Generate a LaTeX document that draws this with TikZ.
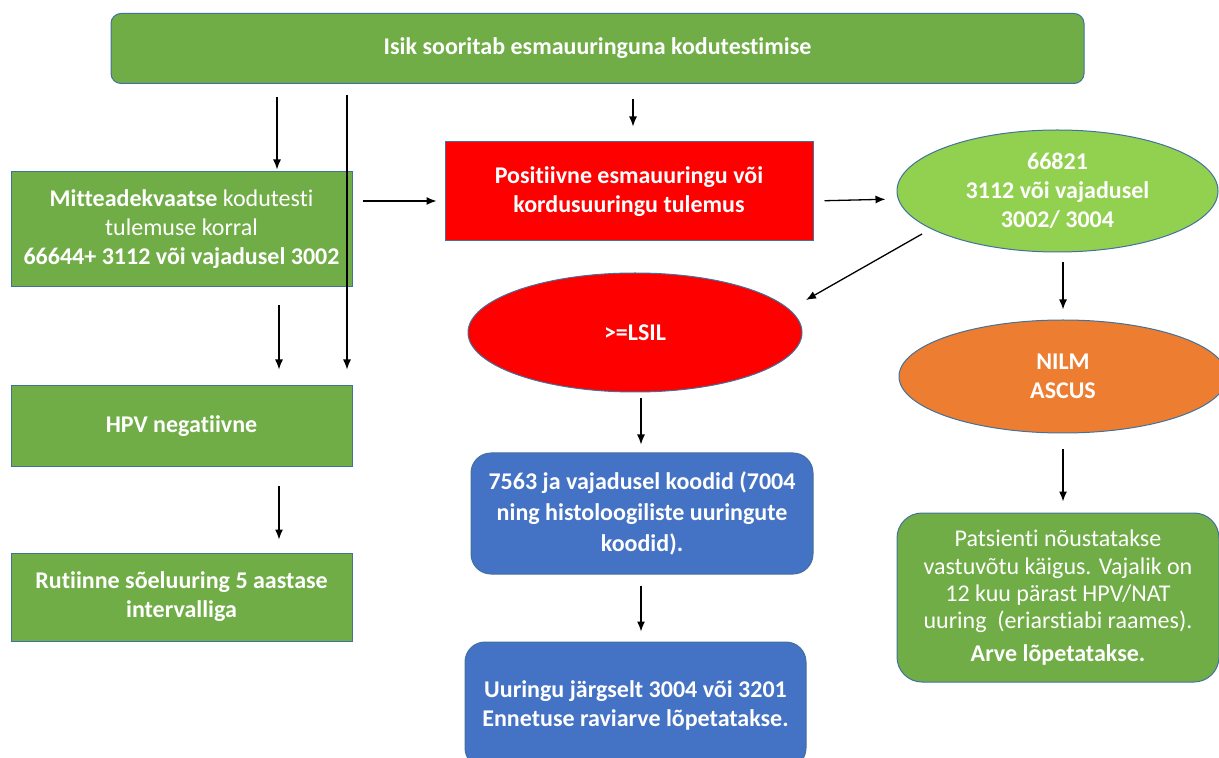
\documentclass[tikz,border=0pt]{standalone}
\usepackage{fontspec}
\setmainfont[Ligatures=NoCommon]{Carlito}
\usetikzlibrary{arrows.meta,shapes.geometric,calc}
\definecolor{gdark}{HTML}{70AD47}
\definecolor{glight}{HTML}{92D050}
\definecolor{rred}{HTML}{FF0000}
\definecolor{oorange}{HTML}{ED7D31}
\definecolor{bblue}{HTML}{4472C4}
\definecolor{edge}{HTML}{41719C}
\tikzset{
  shp/.style={draw=edge, line width=0.5pt, inner sep=0pt, align=center, text=white, font=\fontsize{12}{14.5}\selectfont\bfseries},
  sq/.style={shp, rectangle},
  rnd/.style={shp, rectangle, rounded corners=#1},
  ell/.style={shp, ellipse},
  txt/.style={inner sep=0pt, align=center, text=white, font=\fontsize{12}{14.5}\selectfont\bfseries},
  arr/.style={draw=black, line width=0.65pt, -{Latex[length=5pt,width=4pt]}}
}
\begin{document}
\begin{tikzpicture}[x=0.5pt,y=-0.5pt]
\useasboundingbox (0,0) rectangle (1219,758);
\clip (0,0) rectangle (1219,758);
% nodes
\node[rnd=5pt, fill=gdark, minimum width=486.5pt, minimum height=35pt] (top) at (597.5,48.5) {Isik sooritab esmauuringuna kodutestimise};
\node[sq, fill=gdark, minimum width=170.5pt, minimum height=57.5pt] (mit) at (181.5,229.5)
  {Mitteadekvaatse \mdseries kodutesti\\ \mdseries tulemuse korral\\ 66644+ 3112 või vajadusel 3002};
\node[sq, fill=rred, minimum width=184pt, minimum height=49.5pt] (red) at (629,191.5)
  {Positiivne esmauuringu või\\ kordusuuringu tulemus};
\node[ell, fill=glight, minimum width=160.5pt, minimum height=61pt] (gE) at (1057.5,191) {};
\node[txt] at (gE) {66821\\ 3112 või vajadusel\\ 3002/ 3004};
\node[ell, fill=rred, minimum width=167pt, minimum height=59.5pt] (lsil) at (635,332.5) {};
\node[txt] at (lsil) {>=LSIL};
\node[ell, fill=oorange, minimum width=164pt, minimum height=56.5pt] (nE) at (1063,376.5) {};
\node[txt] at (nE) {NILM\\ ASCUS};
\node[sq, fill=gdark, minimum width=170.5pt, minimum height=40pt] (hpv) at (181.5,426) {HPV negatiivne};
\node[sq, fill=gdark, minimum width=170.5pt, minimum height=44pt] (rut) at (181.5,597)
  {Rutiinne sõeluuring 5 aastase\\ intervalliga};
\node[rnd=10pt, fill=bblue, minimum width=171pt, minimum height=60.5pt, font=\fontsize{12}{15.5}\selectfont\bfseries] (b1) at (642,513.5)
  {7563 ja vajadusel koodid (7004\\ ning histoloogiliste uuringute\\ koodid).};
\node[rnd=10pt, fill=bblue, minimum width=170.5pt, minimum height=63pt] (b2) at (635.5,705)
  {Uuringu järgselt 3004 või 3201\\ Ennetuse raviarve lõpetatakse.};
\node[rnd=12.5pt, fill=gdark, minimum width=161pt, minimum height=84.5pt, font=\fontsize{12}{13.7}\selectfont] (rbox) at (1058,597.5)
  {Patsienti nõustatakse\\ vastuvõtu käigus. Vajalik on\\ 12 kuu pärast HPV/NAT\\ uuring\ \ (eriarstiabi raames).\\[2.5pt] \bfseries Arve lõpetatakse.};
% helper coordinates
\coordinate (x277) at (277,0);
\coordinate (x347) at (347,0);
\coordinate (x633) at (633,0);
\coordinate (x279) at (279,0);
\coordinate (x641) at (641,0);
\coordinate (x1063) at (1063,0);
\coordinate (y201) at (0,201);
\coordinate (y199) at (0,199);
\coordinate (dS) at (922,234);
\coordinate (lsilTip) at (806,300);
% connectors
\draw[arr, shorten <=6.5pt, shorten >=1pt] (top.south -| x277) -- (mit.north -| x277);
\draw[arr, shorten <=5.5pt, shorten >=8pt] (top.south -| x347) -- (hpv.north -| x347);
\draw[arr, shorten <=7.5pt, shorten >=7.5pt] (top.south -| x633) -- (red.north -| x633);
\draw[arr, shorten <=5pt, shorten >=4pt] (mit.east |- y201) -- (red.west |- y201);
\draw[arr, shorten <=5.5pt, shorten >=5.5pt] (red.east |- y201) -- (gE.west |- y199);
\draw[arr] (dS) -- (lsilTip);
\draw[arr, shorten <=5pt, shorten >=5pt] (gE.south -| x1063) -- (nE.north -| x1063);
\draw[arr, shorten <=9pt, shorten >=8pt] (mit.south -| x279) -- (hpv.north -| x279);
\draw[arr, shorten <=9.5pt, shorten >=6.5pt] (hpv.south -| x279) -- (rut.north -| x279);
\draw[arr, shorten <=3pt, shorten >=4pt] (lsil.south -| x641) -- (b1.north -| x641);
\draw[arr, shorten <=5.5pt, shorten >=5pt] (b1.south -| x641) -- (b2.north -| x641);
\draw[arr, shorten <=8pt, shorten >=5.5pt] (nE.south -| x1063) -- (rbox.north -| x1063);
\end{tikzpicture}
\end{document}
